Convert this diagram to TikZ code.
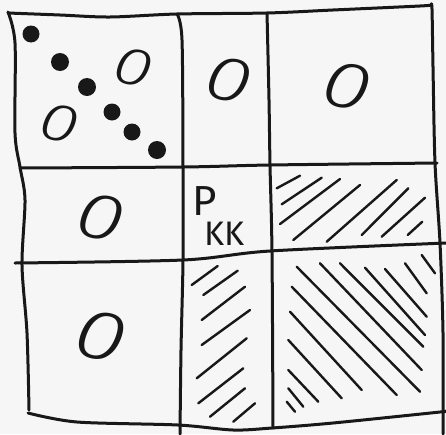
\documentclass[tikz,border=0pt]{standalone}
\usepackage{fontspec}
\newfontfamily\handfont{Fira Sans Light}[ItalicFont={Fira Sans Light Italic}]
\newfontfamily\penfont{Fira Sans}
\newcommand\widezero{\scalebox{1.35}[1]{0}}
\definecolor{ink}{RGB}{24,24,24}
\definecolor{paper}{RGB}{246,246,246}

\begin{document}
\begin{tikzpicture}[x=1pt,y=-1pt,
  penline/.style={ink,line width=3pt,line cap=round,line join=round},
  hatchline/.style={ink,line width=2.4pt,line cap=round},
  zero/.style={ink,inner sep=0pt,rotate=-12,font=\handfont\itshape\fontsize{#1}{#1}\selectfont},
  every node/.style={inner sep=0pt}]
\fill[paper] (0,0) rectangle (446,434);
\useasboundingbox (0,0) rectangle (446,434);
% outer frame
\draw[penline] plot[smooth] coordinates {(8,13) (60,15) (110,17) (177,14) (267,13) (333,10) (420,6) (431,5)};
\draw[penline] plot[smooth] coordinates {(431,5) (432,9) (433,67) (435,163) (440,243) (443,333) (443,434)};
\draw[penline] plot[smooth] coordinates {(8,12) (15,43) (15,133) (20,167) (25,200) (22,265) (27,333) (29,410)};
\draw[penline] plot[smooth] coordinates {(28,413) (77,422) (178,425) (233,430) (272,428) (333,423) (440,412) (446,411)};
% block rules
\draw[penline] plot[smooth] coordinates {(20,168) (183,167) (270,165) (437,163)};
\draw[penline] plot[smooth] coordinates {(15,263) (183,260) (270,251) (446,243)};
\draw[penline] plot[smooth] coordinates {(177,14) (182,40) (183,167) (183,260) (181,350) (180,434)};
\draw[penline] plot[smooth] coordinates {(267,13) (269,100) (270,165) (272,253) (273,428)};
% diagonal of the first block
\fill[ink] (31,34) circle (8.5);
\fill[ink] (60,62) circle (9);
\fill[ink] (87,87) circle (9);
\fill[ink] (112,112) circle (8.5);
\fill[ink] (132,132) circle (8.5);
\fill[ink] (157,150) circle (9);
% zero blocks
\node[zero=53] (z11) at (133,67) {\widezero};
\node[zero=53] (z12) at (59,123) {\widezero};
\node[zero=63] (z2) at (229,80) {\widezero};
\node[zero=66] (z3) at (347,86) {\widezero};
\node[zero=65] (z4) at (100,217) {\widezero};
\node[zero=70] (z7) at (101,336) {\widezero};
% pivot block
\node[ink,anchor=base west,font=\penfont] (pkk) at (192,215)
  {\fontsize{42}{42}\selectfont P\raisebox{-30pt}{\kern-12pt\fontsize{34}{34}\selectfont KK}};
% block right of the pivot
\draw[hatchline] (276.7,188.3) -- (300,175.7);
\draw[hatchline] (281.7,204.3) -- (321.7,177.7);
\draw[hatchline] (280,224) -- (340,179);
\draw[hatchline] (293.3,240) -- (360,185);
\draw[hatchline] (326.7,241.7) -- (396.7,180);
\draw[hatchline] (361.7,235) -- (408.3,188.3);
\draw[hatchline] (381.7,236.7) -- (425,197.7);
\draw[hatchline] (407.7,235) -- (422.3,221.7);
% block below the pivot
\draw[hatchline] (191.7,285) -- (217.7,266);
\draw[hatchline] (203.3,295) -- (237.7,270.7);
\draw[hatchline] (201.7,320) -- (245,286.7);
\draw[hatchline] (201.7,345) -- (250,310);
\draw[hatchline] (196.7,378.3) -- (246.7,338.3);
\draw[hatchline] (198.3,403.3) -- (243.3,368.3);
\draw[hatchline] (210,416.7) -- (245,388.3);
\draw[hatchline] (233.3,421.7) -- (255,403.3);
% trailing block
\draw[hatchline] (421.7,255) -- (435,273.3);
\draw[hatchline] (405,263.3) -- (426.7,293.3);
\draw[hatchline] (385,269) -- (426.7,316.7);
\draw[hatchline] (365,267.7) -- (425,335);
\draw[hatchline] (340,263.3) -- (423.3,346.7);
\draw[hatchline] (320,263.3) -- (421.7,370);
\draw[hatchline] (296.7,266.7) -- (420,391.7);
\draw[hatchline] (291.7,286.7) -- (396.7,395);
\draw[hatchline] (290,311.7) -- (361.7,390);
\draw[hatchline] (288.3,340) -- (341.7,398.3);
\draw[hatchline] (288.3,370) -- (318.3,401.7);
\draw[hatchline] (288.3,388.3) -- (303.3,406.7);
\draw[hatchline] (286.7,401.7) -- (295,411.7);
\end{tikzpicture}
\end{document}
